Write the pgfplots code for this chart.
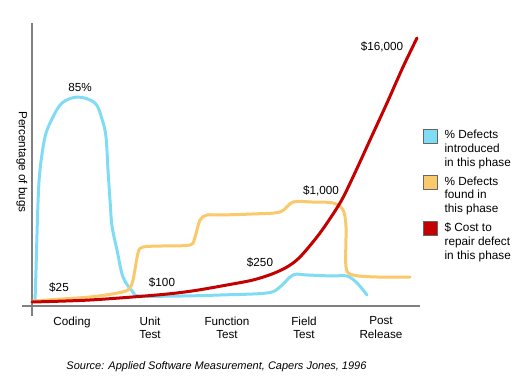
\documentclass[border=0pt]{standalone}
\usepackage{pgfplots}
\pgfplotsset{compat=1.18}
\usepackage{fontspec}
\setmainfont{Liberation Sans}
\definecolor{cBlue}{HTML}{80DCF4}
\definecolor{cOrange}{HTML}{F9C96B}
\definecolor{cRed}{HTML}{C40000}
\definecolor{cAxis}{HTML}{808080}
\begin{document}
\begin{tikzpicture}
\begin{axis}[
  x=1pt, y=1pt,
  xmin=-10, xmax=388, ymin=-10, ymax=283,
  axis lines=middle,
  axis line style={-, cAxis, line width=2.2pt},
  ytick=\empty,
  xtick={40,118,195,272,349},
  xticklabels={Coding, Unit\\Test, Function\\Test, Field\\Test, Post\\Release},
  xticklabel style={align=center, font=\fontsize{11.7}{13.5}\selectfont, yshift=-7pt},
  major tick length=0pt,
  clip=false,
  legend cell align=left,
  legend style={at={(axis cs:388,180)}, anchor=north west, draw=none, fill=none,
    font=\fontsize{11.8}{13.7}\selectfont, row sep=5pt, cells={align=left}},
  every axis plot/.append style={line width=3pt, line join=round, line cap=round},
]
\addplot[cBlue, smooth, tension=0.55, legend image code/.code={\path[draw=none,fill=none] (0pt,6pt) rectangle (19pt,20pt);\draw[draw=black!60, line width=0.8pt, fill=cBlue] (0pt,6pt) rectangle (14pt,20pt);}] coordinates {
(3,4) (4,36) (6,103) (8,136) (13,169) (20,187) (30,203) (46,209) (63,203) (70,187) (74,169) (76,136) (78,106) (80,80) (85,56) (91,29) (101,14) (108,10) (150,10) (188,11) (235,13) (248,19) (261,31) (275,31) (300,30) (315,30) (325,23) (335,11)
};
\addlegendentry{\% Defects\\introduced\\in this phase}
\addplot[cOrange, smooth, tension=0.5, legend image code/.code={\path[draw=none,fill=none] (0pt,6pt) rectangle (19pt,20pt);\draw[draw=black!60, line width=0.8pt, fill=cOrange] (0pt,6pt) rectangle (14pt,20pt);}] coordinates {
(1,5) (30,7) (58,9) (80,12) (96,16) (101,26) (106,53) (111,59) (130,60) (158,61) (163,69) (168,86) (175,91) (188,91) (220,92) (248,94) (261,104) (280,104) (301,103) (311,96) (314,79) (314,39) (321,31) (345,29) (378,29)
};
\addlegendentry{\% Defects\\found in\\this phase}
\addplot[cRed, smooth, tension=0.5, legend image code/.code={\path[draw=none,fill=none] (0pt,6pt) rectangle (19pt,20pt);\draw[draw=black!60, line width=0.8pt, fill=cRed] (0pt,6pt) rectangle (14pt,20pt);}] coordinates {
(0,4) (58,6) (125,11) (160,15) (195,21) (221,26) (240,32) (255,39) (268,49) (288,73) (308,103) (321,129) (338,166) (355,203) (371,239) (385,268)
};
\addlegendentry{\$ Cost to\\repair defect\\in this phase}
\begin{scope}[font=\fontsize{11.7}{13.5}\selectfont]
\node at (axis cs:48,219) {85\%};
\node at (axis cs:27,18) {\$25};
\node at (axis cs:130,23) {\$100};
\node at (axis cs:228,43) {\$250};
\node at (axis cs:289,115) {\$1,000};
\node at (axis cs:350,259) {\$16,000};
\node[rotate=-90] at (axis cs:-10,144) {Percentage of bugs};
\end{scope}
\node[font=\fontsize{11}{13}\selectfont\itshape] at (axis cs:184.5,-61) {Source: Applied Software Measurement, Capers Jones, 1996};
\path (axis cs:-32,-85) rectangle (axis cs:498,306);
\end{axis}
\end{tikzpicture}
\end{document}
